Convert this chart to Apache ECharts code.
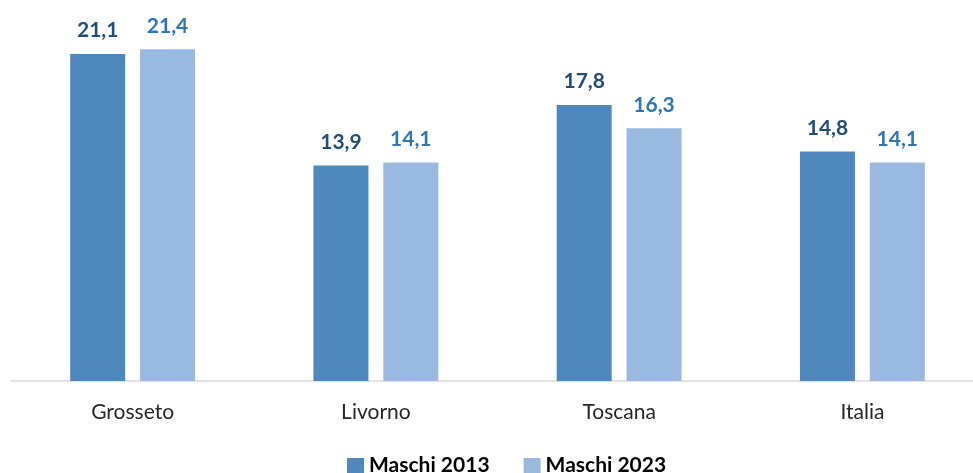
<!DOCTYPE html>
<html><head><meta charset="utf-8">
<script src="https://cdn.jsdelivr.net/npm/echarts@6/dist/echarts.min.js"></script>
<style>html,body{margin:0;padding:0;background:#fff;overflow:hidden}#c{width:995px;height:473px}</style>
</head><body><div id="c"></div>
<script>
const categories = ['Grosseto', 'Livorno', 'Toscana', 'Italia'];
const maschi2013 = [21.1, 13.9, 17.8, 14.8];
const maschi2023 = [21.4, 14.1, 16.3, 14.1];
const seriesNames = ['Maschi 2013', 'Maschi 2023'];

const FONT = 'Lato, "Open Sans", sans-serif';
const fmt = p => p.value.toFixed(1).replace('.', ',');
const chart = echarts.init(document.getElementById('c'));
chart.setOption({
  animation: false,
  grid: { left: 11, right: 11, top: 9, bottom: 92, containLabel: false },
  xAxis: {
    type: 'category', data: categories,
    axisLine: { lineStyle: { color: '#d9d9d9', width: 1.5 } },
    axisTick: { show: false },
    axisLabel: { fontFamily: FONT, fontSize: 21, color: '#262626', margin: 21 }
  },
  yAxis: { type: 'value', min: 0, max: 24, show: false, splitLine: { show: false } },
  legend: {
    top: 450, left: 342, itemWidth: 17, itemHeight: 15, itemGap: 34,
    icon: 'rect',
    textStyle: { fontFamily: FONT, fontSize: 21, fontWeight: 'bold', color: '#000' }
  },
  series: [
    { name: seriesNames[0], type: 'bar', data: maschi2013, barWidth: 55, barGap: '27%',
      itemStyle: { color: '#4F88BD' },
      label: { show: true, position: 'top', distance: 13, formatter: fmt,
        fontFamily: FONT, fontSize: 21, fontWeight: 'bold', color: '#1F4E79' } },
    { name: seriesNames[1], type: 'bar', data: maschi2023, barWidth: 55,
      itemStyle: { color: '#99B9E0' },
      label: { show: true, position: 'top', distance: 13, formatter: fmt,
        fontFamily: FONT, fontSize: 21, fontWeight: 'bold', color: '#2E75B6' } }
  ]
});
</script></body></html>
